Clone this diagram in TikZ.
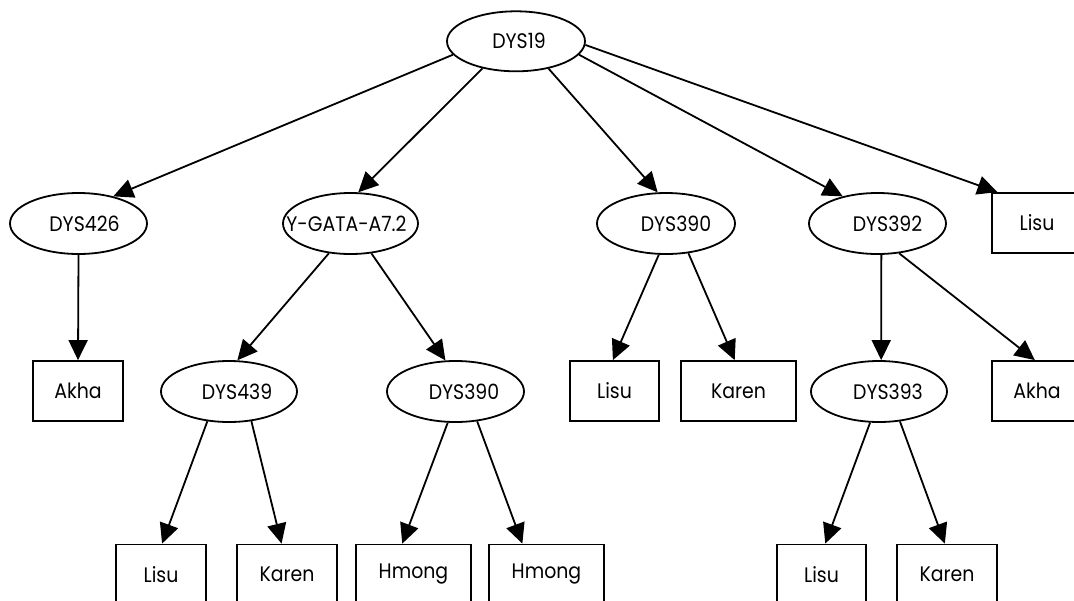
\documentclass[tikz,border=0pt]{standalone}
\usepackage{fontspec}
\setmainfont{Poppins}[FakeStretch=0.9]
\usetikzlibrary{shapes.geometric,arrows.meta}
\newcommand\lbl[3]{\raisebox{-#2}{\makebox[0pt]{\hspace*{#1}\hspace*{#1}#3}}}
\begin{document}
\begin{tikzpicture}[x=1pt,y=-1pt,
  every node/.style={font=\fontsize{21}{25}\selectfont},
  ell/.style={ellipse,draw,line width=1.8pt,inner sep=0pt,minimum width=137pt,minimum height=61pt},
  leaf/.style={rectangle,draw,line width=1.8pt,inner sep=0pt,minimum height=60pt,minimum width=#1},
  arr/.style={-{Triangle[length=20pt,width=19pt]},line width=1.8pt}]
\useasboundingbox (0,0) rectangle (1074,600);
\clip (0,0) rectangle (1074,600);
% level 0
\node[ell,minimum width=138pt,minimum height=60pt] (root) at (516,41.3) {\lbl{3pt}{3pt}{DYS19}};
% level 1
\node[ell] (d426) at (78.5,223.5) {\lbl{6pt}{3pt}{DYS426}};
\node[ell,minimum width=135pt] (yg) at (350.5,223.5) {\lbl{-4pt}{3pt}{Y-GATA-A7.2}};
\node[ell,minimum width=138pt] (d390a) at (666,223.5) {\lbl{10pt}{3pt}{DYS390}};
\node[ell] (d392) at (877.5,223.5) {\lbl{10pt}{3pt}{DYS392}};
\node[leaf=90pt] (lisuT) at (1037,223) {Lisu};
% level 2
\node[leaf=90pt] (akhaL) at (78,391) {Akha};
\node[ell,minimum width=136pt] (d439) at (229,391.5) {\lbl{8pt}{3pt}{DYS439}};
\node[ell] (d390b) at (455.5,391.5) {\lbl{8.5pt}{3pt}{DYS390}};
\node[leaf=89pt] (lisuM) at (614.5,391) {Lisu};
\node[leaf=115pt] (karenM) at (738.5,391) {Karen};
\node[ell,minimum width=136pt] (d393) at (879,391.5) {\lbl{9pt}{3pt}{DYS393}};
\node[leaf=90pt] (akhaR) at (1037,391) {Akha};
% level 3
\node[leaf=90pt] (lisu1) at (161,574.5) {Lisu};
\node[leaf=100pt] (karen1) at (287,574.5) {Karen};
\node[leaf=115pt] (hmong1) at (413.5,574.5) {Hmong};
\node[leaf=115pt] (hmong2) at (546.5,574.5) {Hmong};
\node[leaf=89pt] (lisu2) at (821.5,574.5) {Lisu};
\node[leaf=100pt] (karen2) at (947,574.5) {Karen};
% edges
\draw[arr] (root.192) -- (d426.38);
\draw[arr] (root.219) -- (yg.76);
\draw[arr] (root.320) -- (d390a.105);
\draw[arr] (root.348) -- (d392.142);
\draw[arr] (root.357) -- (lisuT.142);
\draw[arr] (d426.south) -- (akhaL.north);
\draw[arr] (yg.234) -- (d439.75);
\draw[arr] (yg.305) -- (d390b.108);
\draw[arr] (d390a.257) -- (lisuM.93);
\draw[arr] (d390a.307) -- (karenM.97);
\draw[arr] (d392.277) -- (d393.86);
\draw[arr] (d392.306) -- (akhaR.94);
\draw[arr] (d439.234) -- (lisu1.88);
\draw[arr] (d439.307) -- (karen1.100);
\draw[arr] (d390b.256) -- (hmong1.110);
\draw[arr] (d390b.306) -- (hmong2.128);
\draw[arr] (d393.254) -- (lisu2.83);
\draw[arr] (d393.305) -- (karen2.94);
\end{tikzpicture}
\end{document}
